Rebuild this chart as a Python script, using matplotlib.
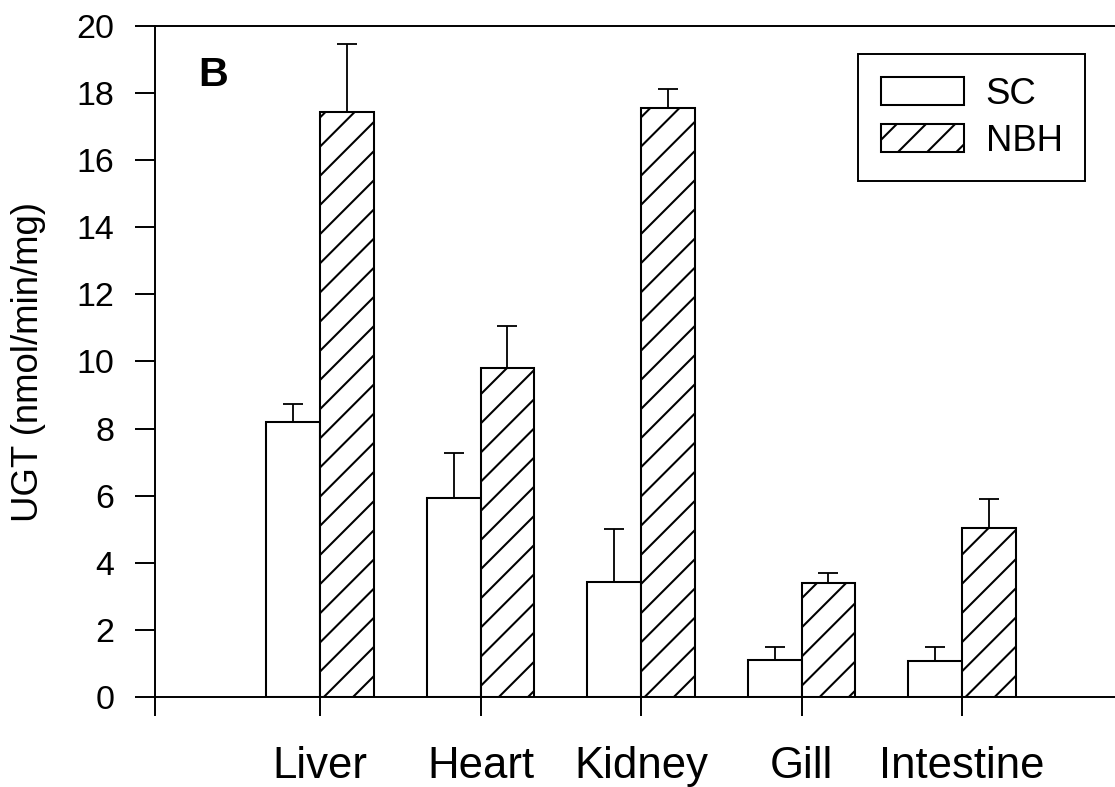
import matplotlib
matplotlib.use("Agg")
import matplotlib.pyplot as plt
import numpy as np

# Données
organes = ['Liver', 'Heart', 'Kidney', 'Gill', 'Intestine']
sc = [8.2, 5.93, 3.43, 1.10, 1.07]
sc_err = [0.53, 1.34, 1.57, 0.39, 0.42]
nbh = [17.44, 9.81, 17.56, 3.40, 5.04]
nbh_err = [2.02, 1.25, 0.56, 0.30, 0.86]

plt.rcParams['font.family'] = ['Liberation Sans', 'DejaVu Sans']
plt.rcParams['hatch.linewidth'] = 0.85

dpi = 175
fig = plt.figure(figsize=(1115 / dpi, 787 / dpi), dpi=dpi)
ax = fig.add_axes([155 / 1115, 1 - 697 / 787, 1 - 155 / 1115, (697 - 26) / 787])

x = np.arange(1, len(organes) + 1)
w = 0.335
err_kw = dict(ecolor='black', elinewidth=0.75, capsize=4.3, capthick=0.75)

# Barres SC (vides) et NBH (hachurées)
ax.bar(x, sc, width=-w, align='edge', color='white', edgecolor='black',
       linewidth=0.85, yerr=[np.zeros(len(sc)), sc_err], error_kw=err_kw, label='SC')
ax.bar(x, nbh, width=w, align='edge', color='white', edgecolor='black',
       linewidth=0.85, hatch='//', yerr=[np.zeros(len(nbh)), nbh_err], error_kw=err_kw, label='NBH')

x0 = -0.028
ax.set_xlim(x0, 5.953)
ax.set_ylim(0, 20)
ax.set_yticks(range(0, 21, 2))
ax.set_xticks([x0] + list(x))
ax.set_xticklabels([''] + organes, fontsize=18)
ax.tick_params(axis='x', direction='out', length=7.8, width=0.8, pad=12.5)
ax.tick_params(axis='y', direction='out', length=8.2, width=0.8, pad=8.5, labelsize=14)

ax.spines['right'].set_visible(False)
for s in ['left', 'top', 'bottom']:
    ax.spines[s].set_linewidth(0.8)

ax.set_ylabel('UGT (nmol/min/mg)', fontsize=15, labelpad=12.5)
ax.text(0.045, 0.927, 'B', transform=ax.transAxes, fontsize=17, fontweight='bold',
        va='center', ha='left')

leg = ax.legend(loc='upper left', bbox_to_anchor=(858 / 1115, 1 - 54 / 787),
                bbox_transform=fig.transFigure, fontsize=15, frameon=True,
                fancybox=False, framealpha=1, edgecolor='black',
                handlelength=2.3, handleheight=0.8, handletextpad=0.58,
                borderpad=0.62, labelspacing=0.33, borderaxespad=0)
leg.get_frame().set_linewidth(0.8)

fig.savefig('out.png', dpi=dpi)
